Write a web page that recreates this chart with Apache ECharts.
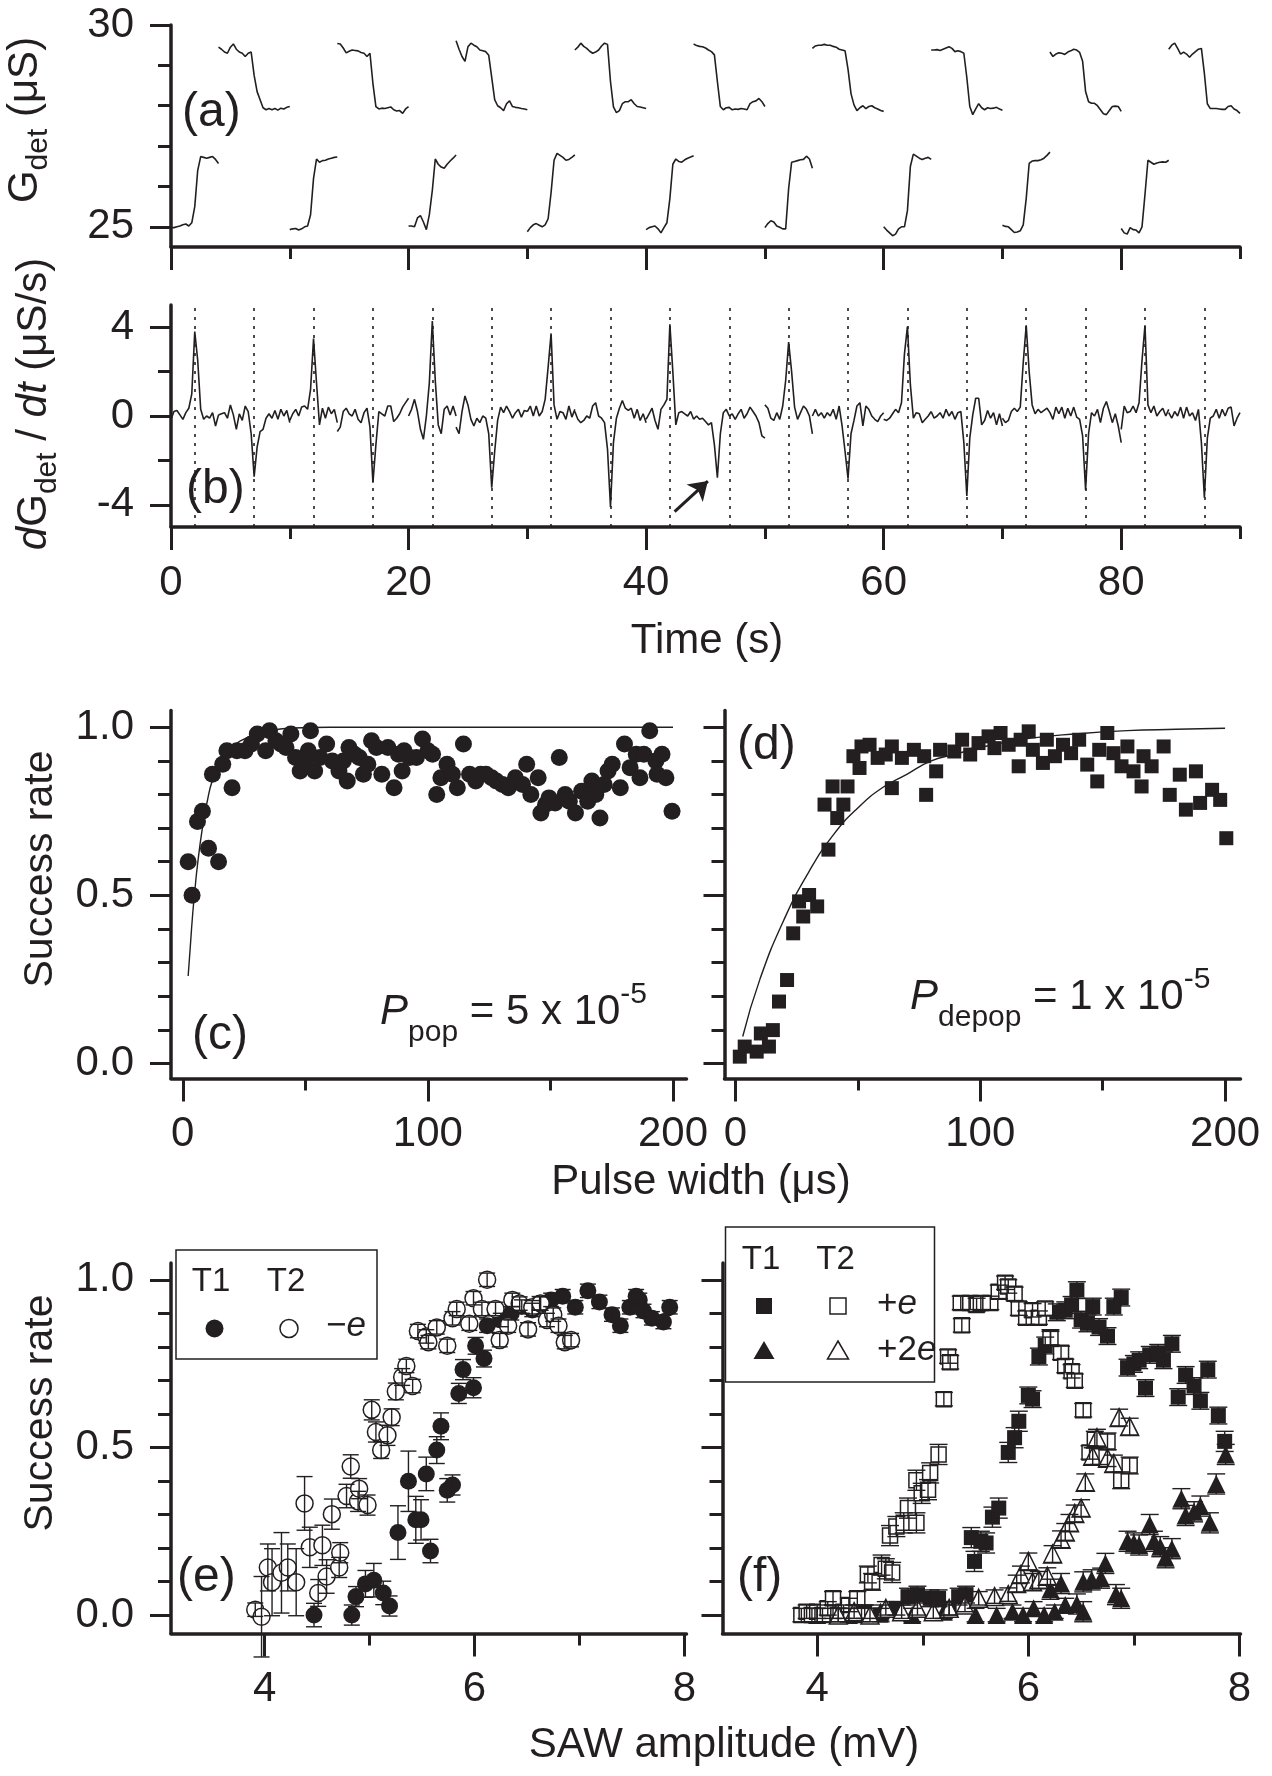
<!DOCTYPE html>
<html>
<head>
<meta charset="utf-8">
<script src="https://cdn.jsdelivr.net/npm/echarts@6/dist/echarts.min.js"></script>
<style>
  html, body { margin: 0; background: #fff; }
  #chart { width: 1272px; height: 1776px; }
</style>
</head>
<body>
<div id="chart"></div>
<script>
const INK = "#231f20";
const FONT = '"Liberation Sans", Arial, sans-serif';

// ---- (a)/(b) time traces, sampled every 0.25 s inside each window ----
const STEP = 0.25;
const riseStarts = [0, 10, 20, 30, 40, 50, 60, 70, 80];
const fallStarts = [4, 14, 24, 34, 44, 54, 64, 74, 84];
const pulseTimes = [2, 7, 12, 17, 22, 27, 32, 37, 42, 47, 52, 57, 62, 67, 72, 77, 82, 87];

// G_det (uS), lower row (rising steps)
const gRise = [
  [24.98, 24.98, 25.0, 25.02, 25.05, 25.07, 25.02, 25.1, 25.5, 26.4, 26.74, 26.72, 26.7, 26.72, 26.74, 26.67, 26.57],
  [24.93, 24.95, 24.96, 24.92, 24.95, 25.0, 25.02, 25.3, 26.2, 26.68, 26.6, 26.64, 26.65, 26.68, 26.7, 26.72, 26.73],
  [25.02, 25.02, 25.0, 25.22, 25.28, 25.12, 24.93, 25.3, 25.9, 26.68, 26.55, 26.48, 26.45, 26.55, 26.63, 26.7, 26.78],
  [24.88, 24.98, 25.05, 25.08, 25.04, 25.0, 25.05, 25.2, 25.85, 26.65, 26.82, 26.77, 26.72, 26.65, 26.67, 26.72, 26.78],
  [24.93, 24.98, 25.0, 25.02, 24.95, 24.85, 24.98, 25.1, 25.7, 26.55, 26.68, 26.62, 26.6, 26.66, 26.7, 26.73, 26.76],
  [24.98, 25.08, 25.15, 25.12, 25.02, 24.99, 24.95, 24.95, 25.95, 26.6, 26.62, 26.64, 26.66, 26.67, 26.75, 26.68, 26.45],
  [25.0, 24.92, 24.85, 24.78, 24.82, 24.95, 25.0, 25.0, 25.4, 26.5, 26.8, 26.75, 26.7, 26.67, 26.7, 26.72, 26.67],
  [25.04, 25.01, 25.0, 24.93, 24.86, 24.87, 24.9, 25.05, 25.7, 26.57, 26.63, 26.64, 26.64, 26.66, 26.7, 26.77, 26.85],
  [24.96, 24.85, 24.82, 24.98, 24.93, 24.92, 24.85, 25.0, 25.8, 26.65, 26.6, 26.55, 26.58, 26.6, 26.61, 26.6, 26.65],
];
// G_det (uS), upper row (falling steps)
const gFall = [
  [29.45, 29.4, 29.33, 29.3, 29.45, 29.53, 29.4, 29.33, 29.3, 29.22, 29.3, 29.33, 28.75, 28.35, 28.15, 27.95, 27.9, 27.93, 27.9, 27.93, 27.89, 27.94, 27.92, 27.96, 27.98],
  [29.54, 29.53, 29.43, 29.31, 29.35, 29.38, 29.37, 29.36, 29.32, 29.3, 29.22, 29.3, 28.55, 27.98, 27.92, 27.94, 27.93, 27.95, 27.97, 27.9, 27.87, 27.88, 27.81, 27.92, 27.98],
  [29.61, 29.4, 29.22, 29.1, 29.46, 29.55, 29.5, 29.46, 29.38, 29.36, 29.34, 29.25, 28.7, 28.15, 28.0, 27.95, 27.88, 28.05, 28.12, 27.98, 27.96, 27.95, 27.93, 27.92, 27.9],
  [29.38, 29.45, 29.55, 29.47, 29.42, 29.35, 29.3, 29.33, 29.38, 29.48, 29.55, 29.52, 28.6, 27.97, 27.83, 27.88, 28.05, 28.1, 28.1, 28.15, 28.05, 27.98, 27.97, 27.95, 27.93],
  [29.53, 29.49, 29.47, 29.46, 29.43, 29.38, 29.34, 29.26, 28.6, 27.98, 27.9, 27.95, 27.96, 27.9, 27.92, 27.91, 27.93, 27.92, 27.9, 28.05, 28.1, 28.12, 28.18, 28.1, 27.98],
  [29.42, 29.48, 29.5, 29.5, 29.52, 29.5, 29.5, 29.47, 29.45, 29.4, 29.38, 29.36, 28.9, 28.3, 28.02, 27.88, 27.95, 28.0, 27.93, 27.98, 28.0, 27.95, 27.92, 27.88, 27.86],
  [29.38, 29.38, 29.39, 29.37, 29.4, 29.43, 29.46, 29.42, 29.34, 29.36, 29.34, 29.3, 28.7, 27.98, 27.78, 27.92, 28.05, 27.95, 27.9, 27.95, 27.93, 27.94, 27.96, 27.92, 27.89],
  [29.33, 29.22, 29.28, 29.31, 29.3, 29.27, 29.33, 29.36, 29.4, 29.38, 29.32, 29.1, 28.35, 28.1, 28.06, 28.06, 28.0, 27.9, 27.8, 27.78, 27.88, 27.98, 27.99, 27.98, 27.86],
  [29.4, 29.5, 29.55, 29.42, 29.28, 29.33, 29.28, 29.2, 29.28, 29.34, 29.4, 29.42, 28.8, 28.05, 27.93, 27.93, 27.93, 27.92, 27.91, 27.91, 27.98, 28.0, 27.92, 27.88, 27.81],
];
// dG/dt (uS/s)
const dRise = [
  [-0.15, 0.2, 0.25, 0.05, -0.15, 0.15, 0.35, 1.0, 3.8, 2.5, 0.3, -0.15, 0.0, -0.1, 0.15, -0.45, 0.05],
  [-0.2, 0.1, 0.3, 0.0, 0.4, 0.45, 0.3, 1.2, 3.49, 1.5, -0.4, 0.35, -0.1, 0.4, 0.1, 0.3, -0.3],
  [0.0, 0.3, 0.75, 0.2, -0.6, -1.05, 0.0, 1.5, 4.28, 1.6, -0.4, -0.8, 0.3, 0.45, 0.05, 0.45, 0.0],
  [0.2, 0.45, 0.0, 0.45, 0.0, 0.2, 0.75, 2.2, 3.72, 0.5, -0.15, 0.2, 0.15, -0.15, 0.45, -0.05, 0.3],
  [-0.15, 0.1, 0.35, -0.2, -0.6, 0.3, 0.5, 0.75, 4.13, 2.0, -0.4, 0.15, 0.2, 0.1, 0.0, 0.2, -0.15],
  [0.5, 0.35, -0.1, -0.2, 0.15, -0.15, 0.45, 1.6, 3.33, 2.0, 0.4, -0.15, 0.15, 0.45, 0.3, 0.0, -0.8],
  [-0.15, -0.2, -0.1, 0.1, 0.3, 0.15, 0.6, 2.8, 4.03, 1.4, -0.1, 0.15, 0.1, -0.3, -0.15, 0.0, 0.2],
  [-0.1, -0.3, -0.2, 0.2, 0.35, 0.2, 0.4, 2.4, 4.09, 2.0, 0.5, 0.1, 0.3, 0.15, 0.25, 0.35, 0.15],
  [-0.6, 0.45, 0.15, 0.2, 0.45, 0.15, 0.6, 2.5, 4.09, 0.5, 0.15, 0.45, 0.0, 0.2, 0.35, 0.0, 0.3],
];
const dFall = [
  [0.05, 0.1, 0.15, -0.1, 0.5, 0.05, -0.6, 0.1, -0.2, 0.45, 0.2, -0.8, -2.73, -1.4, -0.7, -0.6, -0.1, 0.1, -0.1, 0.25, -0.15, 0.3, 0.0, 0.25, -0.3],
  [-0.7, -0.5, 0.2, 0.35, 0.1, 0.0, 0.3, -0.15, -0.3, 0.15, 0.35, -0.5, -3.0, -1.3, 0.2, 0.1, 0.0, 0.45, 0.45, -0.25, -0.1, 0.1, 0.4, 0.6, 0.8],
  [-0.5, -0.8, 0.2, 0.9, 0.5, -0.15, -0.45, -0.1, -0.3, 0.0, -0.1, -0.8, -3.23, -1.6, -0.2, 0.4, 0.15, 0.45, 0.2, -0.1, 0.15, 0.3, -0.05, 0.25, 0.2],
  [0.2, -0.15, -0.3, -0.2, 0.0, -0.1, 0.45, 0.6, 0.0, -0.1, -0.3, -1.5, -4.1, -1.2, -0.1, 0.35, 0.7, 0.35, 0.25, 0.35, -0.1, 0.3, -0.2, 0.1, -0.3],
  [-0.15, 0.0, -0.15, -0.1, -0.25, -0.4, -0.3, -1.3, -2.78, -0.8, 0.15, 0.3, 0.0, 0.1, -0.15, 0.1, 0.3, -0.1, 0.1, 0.4, 0.2, 0.0, -0.3, -0.9, -1.0],
  [0.0, 0.3, 0.0, 0.15, -0.1, 0.15, 0.0, 0.3, -0.15, 0.45, -0.45, -1.6, -2.82, -0.8, -0.2, 0.45, 0.6, -0.45, 0.45, 0.3, 0.0, -0.15, -0.25, 0.0, 0.15],
  [0.2, -0.1, 0.0, 0.15, -0.1, 0.3, 0.0, 0.2, -0.15, 0.15, 0.2, -1.2, -3.6, -1.0, 0.05, 0.8, 0.8, -0.4, -0.2, 0.25, -0.1, 0.15, -0.4, 0.1, -0.45],
  [0.15, -0.15, 0.4, 0.1, 0.4, -0.1, 0.35, 0.0, 0.4, -0.05, -0.15, -0.9, -3.33, -0.8, 0.15, 0.0, 0.3, -0.3, 0.35, 0.65, 0.2, -0.3, 0.1, -0.45, -1.2],
  [0.15, -0.1, 0.2, 0.0, 0.4, -0.1, 0.4, 0.0, 0.15, -0.2, 0.3, -1.2, -3.68, -1.0, -0.1, 0.0, 0.3, -0.1, 0.3, 0.0, 0.35, 0.4, -0.45, -0.1, 0.15],
];
// arrow in (b): tail -> head, data coords
const arrowTail = [42.4, -4.31];
const arrowHead = [45.2, -2.93];

// ---- (c) success rate vs pulse width, population ----
const cPts = [
  [2.2, 0.6], [3.8, 0.5], [6.0, 0.72], [8.0, 0.75], [10.5, 0.64], [14.6, 0.6], [12.1, 0.86], [16.3, 0.89],
  [20.1, 0.82], [18.0, 0.93], [22.1, 0.93], [25.4, 0.93], [28, 0.95], [30.4, 0.98], [33.8, 0.93], [35.4, 0.99],
  [38, 0.96], [40, 0.95], [42.1, 0.94], [44.1, 0.98], [46, 0.91], [47.9, 0.87], [50, 0.9], [51.2, 0.93],
  [52.1, 0.99], [53.8, 0.87], [56, 0.91], [58.7, 0.95], [61, 0.9], [63.7, 0.87], [65.5, 0.9], [67.1, 0.84],
  [67.8, 0.94], [70, 0.92], [72.0, 0.91], [73.7, 0.86], [75.5, 0.89], [77.0, 0.96], [79, 0.94], [81.2, 0.86],
  [83.7, 0.94], [86.2, 0.82], [88, 0.92], [89.5, 0.87], [90.3, 0.93], [92.5, 0.91], [95.3, 0.91], [97.8, 0.965],
  [100, 0.93], [101.9, 0.92], [103.6, 0.8], [105.3, 0.85], [107.8, 0.89], [110, 0.86], [112.0, 0.82], [114.5, 0.95],
  [117.0, 0.86], [119.5, 0.84], [121.5, 0.86], [123.7, 0.86], [126, 0.85], [127.9, 0.84], [130.4, 0.83], [132.8, 0.82],
  [135.7, 0.85], [138.6, 0.83], [140.3, 0.89], [142.0, 0.8], [145.0, 0.85], [146.1, 0.745], [148, 0.77], [149.4, 0.79],
  [151.9, 0.775], [153.6, 0.91], [156.0, 0.8], [157.7, 0.78], [160.2, 0.745], [162.7, 0.81], [165.2, 0.78], [166.9, 0.84],
  [168.5, 0.8], [170.2, 0.73], [171.9, 0.83], [173.5, 0.87], [175.2, 0.89], [178.5, 0.82], [180.2, 0.95], [182.5, 0.88],
  [185, 0.92], [186.5, 0.85], [188.1, 0.92], [190.5, 0.99], [193.0, 0.9], [193.5, 0.86], [195.5, 0.92], [197.1, 0.85],
  [199.6, 0.75],
];
const cFit = [
  [2.2, 0.26], [3, 0.34], [4, 0.44], [5, 0.52], [6, 0.59], [8, 0.7], [10, 0.78], [12, 0.84], [15, 0.89],
  [20, 0.94], [25, 0.965], [30, 0.98], [35, 0.99], [45, 0.998], [60, 1.0], [200, 1.0],
];

// ---- (d) success rate vs pulse width, depopulation ----
const dPts = [
  [1.8, 0.02], [3.8, 0.05], [8.7, 0.035], [10.4, 0.089], [13.7, 0.05], [15.3, 0.099], [17.8, 0.184], [21.1, 0.248],
  [23.6, 0.387], [26.0, 0.482], [27.7, 0.437], [30.1, 0.501], [33.4, 0.467], [36.4, 0.77], [38.0, 0.636], [39.7, 0.824],
  [41.6, 0.73], [44.1, 0.77], [45.8, 0.824], [48.2, 0.914], [50.7, 0.879], [51.5, 0.943], [54.8, 0.948], [58.1, 0.909],
  [61.4, 0.919], [63.9, 0.943], [63.9, 0.819], [68.0, 0.909], [72.9, 0.933], [77.1, 0.914], [77.9, 0.799], [82.0, 0.869],
  [83.6, 0.933], [89.4, 0.928], [92.6, 0.963], [95.9, 0.919], [99.3, 0.953], [103.4, 0.973], [105.8, 0.938], [108.3, 0.983],
  [111.6, 0.948], [115.7, 0.884], [116.5, 0.963], [119.8, 0.988], [121.5, 0.933], [125.6, 0.894], [127.2, 0.963], [130.5, 0.914],
  [133.8, 0.948], [137.1, 0.923], [140.4, 0.963], [143.7, 0.889], [147.8, 0.839], [148.6, 0.933], [151.9, 0.983], [154.4, 0.923],
  [157.7, 0.884], [160.1, 0.943], [162.6, 0.869], [165.9, 0.824], [166.7, 0.914], [170.0, 0.884], [174.9, 0.943], [177.4, 0.799],
  [181.5, 0.859], [184.0, 0.755], [188.1, 0.869], [189.8, 0.775], [194.7, 0.814], [198.0, 0.784], [200.5, 0.67],
];
const dFit = [
  [3, 0.08], [10, 0.25], [20, 0.43], [30, 0.57], [40, 0.68], [50, 0.76], [60, 0.82], [70, 0.86], [80, 0.9],
  [90, 0.92], [100, 0.94], [120, 0.967], [140, 0.981], [160, 0.99], [180, 0.994], [200, 0.997],
];

// ---- (e) success rate vs SAW amplitude, -e : [mV, rate, error] ----
const eT1 = [
  [4.47, 0.0, 0.035], [4.83, 0.0, 0.03], [4.87, 0.055, 0.03], [4.96, 0.093, 0.04], [5.04, 0.104, 0.05], [5.13, 0.066, 0.035],
  [5.19, 0.027, 0.03], [5.27, 0.246, 0.08], [5.37, 0.399, 0.09], [5.44, 0.284, 0.07], [5.49, 0.284, 0.06], [5.54, 0.421, 0.05],
  [5.58, 0.191, 0.035], [5.64, 0.492, 0.04], [5.68, 0.563, 0.04], [5.74, 0.372, 0.035], [5.79, 0.388, 0.03], [5.85, 0.661, 0.03],
  [5.89, 0.732, 0.03], [5.99, 0.678, 0.03], [6.01, 0.803, 0.025], [6.09, 0.765, 0.025], [6.12, 0.863, 0.02], [6.25, 0.88, 0.02],
  [6.35, 0.9, 0.02], [6.45, 0.92, 0.02], [6.55, 0.91, 0.02], [6.62, 0.93, 0.02], [6.73, 0.94, 0.02], [6.84, 0.951, 0.02],
  [6.96, 0.918, 0.02], [7.08, 0.967, 0.02], [7.19, 0.934, 0.02], [7.31, 0.896, 0.02], [7.39, 0.863, 0.02], [7.48, 0.918, 0.02],
  [7.54, 0.951, 0.02], [7.57, 0.94, 0.02], [7.61, 0.907, 0.02], [7.69, 0.885, 0.02], [7.8, 0.874, 0.02], [7.86, 0.918, 0.02],
];
const eT2 = [
  [3.91, 0.016, 0.02], [3.97, -0.005, 0.12], [4.03, 0.142, 0.07], [4.07, 0.098, 0.1], [4.16, 0.126, 0.12], [4.22, 0.142, 0.07],
  [4.3, 0.098, 0.1], [4.38, 0.333, 0.08], [4.43, 0.202, 0.06], [4.51, 0.066, 0.04], [4.55, 0.208, 0.06], [4.59, 0.115, 0.05],
  [4.64, 0.301, 0.045], [4.71, 0.142, 0.03], [4.72, 0.186, 0.03], [4.78, 0.355, 0.035], [4.82, 0.443, 0.035], [4.89, 0.339, 0.03],
  [4.9, 0.377, 0.03], [4.98, 0.328, 0.03], [5.02, 0.612, 0.03], [5.06, 0.546, 0.03], [5.11, 0.492, 0.025], [5.17, 0.536, 0.03],
  [5.21, 0.59, 0.025], [5.25, 0.667, 0.025], [5.31, 0.71, 0.025], [5.35, 0.743, 0.02], [5.41, 0.683, 0.02], [5.46, 0.847, 0.02],
  [5.54, 0.831, 0.02], [5.56, 0.814, 0.02], [5.64, 0.858, 0.02], [5.74, 0.803, 0.02], [5.79, 0.885, 0.02], [5.83, 0.913, 0.02],
  [5.95, 0.869, 0.02], [5.99, 0.945, 0.02], [6.07, 0.913, 0.02], [6.12, 1.0, 0.02], [6.2, 0.913, 0.02], [6.24, 0.82, 0.02],
  [6.32, 0.863, 0.02], [6.36, 0.94, 0.02], [6.43, 0.929, 0.02], [6.51, 0.852, 0.02], [6.55, 0.918, 0.02], [6.63, 0.929, 0.02],
  [6.69, 0.88, 0.02], [6.75, 0.896, 0.02], [6.8, 0.863, 0.02], [6.86, 0.814, 0.02], [6.92, 0.82, 0.02],
];

// ---- (f) success rate vs SAW amplitude, +e and +2e : [mV, rate, error] ----
const fT1e = [
  [4.0, 0.0, 0.02], [4.15, 0.01, 0.02], [4.3, 0.0, 0.02], [4.45, 0.01, 0.02], [4.6, 0.0, 0.02], [4.75, 0.02, 0.02],
  [4.86, 0.055, 0.025], [4.95, 0.061, 0.025], [5.07, 0.05, 0.025], [5.15, 0.05, 0.025], [5.25, 0.02, 0.02], [5.34, 0.055, 0.025],
  [5.41, 0.061, 0.025], [5.46, 0.231, 0.03], [5.49, 0.16, 0.03], [5.55, 0.22, 0.03], [5.6, 0.215, 0.03], [5.66, 0.292, 0.03],
  [5.72, 0.319, 0.03], [5.81, 0.485, 0.03], [5.87, 0.529, 0.03], [5.91, 0.578, 0.03], [6.0, 0.655, 0.025], [6.04, 0.644, 0.025],
  [6.1, 0.771, 0.025], [6.16, 0.804, 0.025], [6.21, 0.826, 0.025], [6.27, 0.903, 0.025], [6.35, 0.909, 0.025], [6.41, 0.925, 0.025],
  [6.46, 0.969, 0.025], [6.5, 0.881, 0.025], [6.56, 0.87, 0.025], [6.61, 0.92, 0.025], [6.67, 0.859, 0.025], [6.75, 0.832, 0.025],
  [6.81, 0.92, 0.025], [6.88, 0.947, 0.025], [6.94, 0.738, 0.025], [7.0, 0.749, 0.025], [7.05, 0.76, 0.025], [7.11, 0.677, 0.025],
  [7.15, 0.776, 0.025], [7.23, 0.782, 0.025], [7.28, 0.76, 0.025], [7.36, 0.809, 0.025], [7.42, 0.65, 0.025], [7.49, 0.716, 0.025],
  [7.57, 0.683, 0.025], [7.63, 0.639, 0.025], [7.7, 0.732, 0.025], [7.8, 0.595, 0.025], [7.86, 0.518, 0.03],
];
const fT2e = [
  [3.85, 0.0, 0.02], [3.9, 0.01, 0.02], [3.95, 0.0, 0.02], [4.0, 0.01, 0.02], [4.05, 0.0, 0.02], [4.1, 0.02, 0.02],
  [4.15, 0.05, 0.02], [4.2, 0.0, 0.02], [4.25, 0.01, 0.02], [4.3, 0.03, 0.02], [4.38, 0.05, 0.02], [4.42, 0.0, 0.02],
  [4.48, 0.121, 0.025], [4.52, 0.099, 0.025], [4.61, 0.149, 0.03], [4.65, 0.138, 0.03], [4.69, 0.237, 0.03], [4.71, 0.127, 0.03],
  [4.75, 0.264, 0.03], [4.82, 0.275, 0.03], [4.86, 0.319, 0.03], [4.94, 0.275, 0.03], [4.94, 0.402, 0.03], [4.99, 0.363, 0.03],
  [5.05, 0.374, 0.03], [5.07, 0.424, 0.03], [5.15, 0.479, 0.03], [5.2, 0.644, 0.02], [5.24, 0.771, 0.02], [5.26, 0.754, 0.02],
  [5.36, 0.931, 0.02], [5.37, 0.864, 0.02], [5.45, 0.931, 0.02], [5.51, 0.925, 0.02], [5.55, 0.931, 0.02], [5.64, 0.931, 0.02],
  [5.72, 0.964, 0.02], [5.78, 0.991, 0.02], [5.81, 0.98, 0.02], [5.87, 0.958, 0.02], [5.91, 0.914, 0.02], [5.98, 0.887, 0.02],
  [6.04, 0.909, 0.02], [6.1, 0.887, 0.02], [6.16, 0.914, 0.02], [6.21, 0.826, 0.02], [6.31, 0.782, 0.02], [6.35, 0.743, 0.02],
  [6.41, 0.727, 0.02], [6.44, 0.699, 0.02], [6.52, 0.611, 0.02], [6.58, 0.485, 0.02], [6.63, 0.523, 0.025], [6.67, 0.474, 0.025],
  [6.75, 0.518, 0.025], [6.88, 0.402, 0.025], [6.96, 0.446, 0.025],
];
const fT1e2 = [
  [4.0, 0.0, 0.02], [4.3, 0.0, 0.02], [4.6, 0.01, 0.02], [4.9, 0.0, 0.02], [5.2, 0.01, 0.02], [5.5, 0.0, 0.02],
  [5.7, 0.0, 0.02], [5.85, 0.01, 0.02], [5.95, 0.0, 0.02], [6.05, 0.02, 0.02], [6.15, 0.0, 0.02], [6.25, 0.01, 0.02],
  [6.35, 0.03, 0.02], [6.46, 0.033, 0.03], [6.52, 0.01, 0.03], [6.21, 0.077, 0.03], [6.31, 0.094, 0.03], [6.52, 0.099, 0.03],
  [6.6, 0.105, 0.03], [6.69, 0.11, 0.03], [6.73, 0.154, 0.03], [6.83, 0.061, 0.03], [6.88, 0.05, 0.03], [6.94, 0.22, 0.03],
  [7.0, 0.215, 0.03], [7.05, 0.209, 0.03], [7.15, 0.27, 0.03], [7.19, 0.22, 0.03], [7.25, 0.204, 0.03], [7.3, 0.171, 0.03],
  [7.36, 0.198, 0.03], [7.45, 0.347, 0.03], [7.49, 0.297, 0.03], [7.57, 0.308, 0.03], [7.63, 0.325, 0.03], [7.72, 0.275, 0.03],
  [7.78, 0.391, 0.03], [7.87, 0.479, 0.03],
];
const fT2e2 = [
  [4.2, 0.0, 0.02], [4.35, 0.01, 0.02], [4.5, 0.0, 0.02], [4.65, 0.02, 0.02], [4.8, 0.01, 0.02], [4.95, 0.02, 0.02],
  [5.1, 0.01, 0.02], [5.25, 0.02, 0.02], [5.4, 0.03, 0.02], [5.53, 0.05, 0.02], [5.68, 0.055, 0.02], [5.81, 0.061, 0.02],
  [5.89, 0.094, 0.025], [5.93, 0.121, 0.025], [6.0, 0.16, 0.025], [6.04, 0.099, 0.025], [6.1, 0.105, 0.025], [6.18, 0.116, 0.025],
  [6.23, 0.182, 0.025], [6.31, 0.226, 0.025], [6.35, 0.248, 0.025], [6.39, 0.275, 0.025], [6.44, 0.303, 0.025], [6.5, 0.319, 0.025],
  [6.54, 0.396, 0.025], [6.61, 0.474, 0.025], [6.65, 0.529, 0.025], [6.75, 0.468, 0.025], [6.81, 0.452, 0.025], [6.86, 0.589, 0.025],
  [6.96, 0.562, 0.025],
];

// ---- ticks ----
const timeMajor = [0, 20, 40, 60, 80];
const timeMinor = [10, 30, 50, 70, 90];
const gMajor = [25, 30];
const gMinor = [26, 27, 28, 29];
const dgMajor = [-4, 0, 4];
const dgMinor = [-2, 2];
const rateMajor = [0, 0.5, 1];
const rateMinor = [0.1, 0.2, 0.3, 0.4, 0.6, 0.7, 0.8, 0.9];
const pwMajor = [0, 100, 200];
const pwMinor = [50, 150];
const sawMajor = [4, 6, 8];
const sawMinor = [5, 7];

/**
 * 把分段窗口数据拼成一条带断点的折线
 */
const windowSeries = (starts, windows) => {
  const out = [];
  windows.forEach((vals, k) => {
    vals.forEach((v, i) => out.push([starts[k] + i * STEP, v]));
    out.push([starts[k] + (vals.length - 1) * STEP, "-"]);
  });
  return out;
};

/**
 * 主刻度轴 + 次刻度轴（同一 grid）
 */
const axisPair = (dir, grid, min, max, major, minor, opt) => {
  const base = {
    type: "value",
    gridIndex: grid,
    min,
    max,
    position: dir === "x" ? "bottom" : "left",
    offset: 0,
    splitLine: { show: false },
  };
  const majorAxis = Object.assign({}, base, {
    axisLine: { show: true, onZero: false, lineStyle: { color: INK, width: 3.5 } },
    axisTick: { show: true, inside: false, customValues: major, length: opt.majorLen, lineStyle: { color: INK, width: 3 } },
    axisLabel: opt.labels
      ? { show: true, customValues: major, margin: opt.margin, color: INK, fontSize: 42, fontFamily: FONT, formatter: opt.fmt }
      : { show: false },
  });
  const minorAxis = Object.assign({}, base, {
    axisLine: { show: false, onZero: false },
    axisTick: { show: true, inside: false, customValues: minor, length: opt.minorLen, lineStyle: { color: INK, width: 3 } },
    axisLabel: { show: false },
  });
  return [majorAxis, minorAxis];
};

const fmt1 = (v) => v.toFixed(1);
const XO = { majorLen: 23, minorLen: 12, margin: 35 };
const YO = { majorLen: 21, minorLen: 13, margin: 37 };

const xAxes = [
  ...axisPair("x", 0, 0, 90, timeMajor, timeMinor, { ...XO, labels: false }),
  ...axisPair("x", 1, 0, 90, timeMajor, timeMinor, { ...XO, labels: true }),
  ...axisPair("x", 2, -4.8, 205.5, pwMajor, pwMinor, { ...XO, labels: true }),
  ...axisPair("x", 3, -4.45, 206.3, pwMajor, pwMinor, { ...XO, labels: true }),
  ...axisPair("x", 4, 3.107, 8.02, sawMajor, sawMinor, { ...XO, labels: true }),
  ...axisPair("x", 5, 3.103, 8.01, sawMajor, sawMinor, { ...XO, labels: true }),
];
const yAxes = [
  ...axisPair("y", 0, 24.5, 30, gMajor, gMinor, { ...YO, labels: true }),
  ...axisPair("y", 1, -5, 5, dgMajor, dgMinor, { ...YO, labels: true }),
  ...axisPair("y", 2, -0.045, 1.05, rateMajor, rateMinor, { ...YO, labels: true, fmt: fmt1 }),
  ...axisPair("y", 3, -0.045, 1.05, rateMajor, rateMinor, { ...YO, labels: false }),
  ...axisPair("y", 4, -0.055, 1.05, rateMajor, rateMinor, { ...YO, labels: true, fmt: fmt1 }),
  ...axisPair("y", 5, -0.055, 1.05, rateMajor, rateMinor, { ...YO, labels: false }),
];

const grids = [
  { left: 171, top: 25, width: 1069, height: 222 },
  { left: 171, top: 305, width: 1069, height: 222 },
  { left: 171, top: 710.5, width: 515.5, height: 368 },
  { left: 724.5, top: 710.5, width: 516, height: 368 },
  { left: 171, top: 1263, width: 515.5, height: 370.5 },
  { left: 722.5, top: 1263, width: 518, height: 370.5 },
].map((g) => Object.assign({ outerBoundsMode: "none", containLabel: false }, g));

const ax = (g) => ({ xAxisIndex: g * 2, yAxisIndex: g * 2 });

const errorBars = (g, data, cap) =>
  Object.assign(ax(g), {
    type: "custom",
    data,
    clip: false,
    z: 4,
    silent: true,
    encode: { x: 0, y: 1 },
    renderItem: (params, api) => {
      const x = api.value(0);
      const y = api.value(1);
      const e = api.value(2);
      const hi = api.coord([x, y + e]);
      const lo = api.coord([x, y - e]);
      const s = { stroke: INK, lineWidth: 1.4, fill: null };
      return {
        type: "group",
        children: [
          { type: "line", shape: { x1: hi[0], y1: hi[1], x2: lo[0], y2: lo[1] }, style: s },
          { type: "line", shape: { x1: hi[0] - cap, y1: hi[1], x2: hi[0] + cap, y2: hi[1] }, style: s },
          { type: "line", shape: { x1: lo[0] - cap, y1: lo[1], x2: lo[0] + cap, y2: lo[1] }, style: s },
        ],
      };
    },
  });

const filled = { color: INK, opacity: 1 };
const hollow = { color: "#fff", borderColor: INK, borderWidth: 1.5, opacity: 1 };
const trace = { type: "line", symbol: "none", showSymbol: false, connectNulls: false, lineStyle: { color: INK, width: 1.6 } };

const series = [
  Object.assign(ax(0), trace, { data: windowSeries(riseStarts, gRise) }),
  Object.assign(ax(0), trace, { data: windowSeries(fallStarts, gFall) }),
  Object.assign(ax(1), trace, {
    data: windowSeries(riseStarts, dRise).concat(windowSeries(fallStarts, dFall)),
    markLine: {
      silent: true,
      symbol: "none",
      label: { show: false },
      lineStyle: { color: INK, width: 1.6, type: [3, 6] },
      data: pulseTimes.map((t) => ({ xAxis: t })),
    },
  }),
  Object.assign(ax(1), {
    type: "line",
    data: [],
    markLine: {
      silent: true,
      symbol: ["none", "arrow"],
      symbolSize: 18,
      label: { show: false },
      lineStyle: { color: INK, width: 3, type: "solid" },
      data: [[{ coord: arrowTail }, { coord: arrowHead }]],
    },
  }),
  Object.assign(ax(2), { type: "line", data: cFit, smooth: true, symbol: "none", z: 1, lineStyle: { color: INK, width: 1.4 } }),
  Object.assign(ax(2), { type: "scatter", data: cPts, symbol: "circle", symbolSize: 17, itemStyle: filled }),
  Object.assign(ax(3), { type: "line", data: dFit, smooth: true, symbol: "none", z: 1, lineStyle: { color: INK, width: 1.4 } }),
  Object.assign(ax(3), { type: "scatter", data: dPts, symbol: "rect", symbolSize: 14, itemStyle: filled }),
  Object.assign(ax(4), { type: "scatter", data: eT1, symbol: "circle", symbolSize: 17, itemStyle: filled, clip: false }),
  Object.assign(ax(4), { type: "scatter", data: eT2, symbol: "circle", symbolSize: 17, itemStyle: hollow, clip: false }),
  errorBars(4, eT1.concat(eT2), 8),
  Object.assign(ax(5), { type: "scatter", data: fT1e, symbol: "rect", symbolSize: 15, itemStyle: filled }),
  Object.assign(ax(5), { type: "scatter", data: fT1e2, symbol: "triangle", symbolSize: 18, itemStyle: filled }),
  Object.assign(ax(5), { type: "scatter", data: fT2e, symbol: "rect", symbolSize: 15, itemStyle: hollow }),
  Object.assign(ax(5), { type: "scatter", data: fT2e2, symbol: "triangle", symbolSize: 18, itemStyle: hollow }),
  errorBars(5, fT1e.concat(fT2e, fT1e2, fT2e2), 9),
];

// ---- text runs with sub/superscripts, laid out with measured widths ----
const mctx = document.createElement("canvas").getContext("2d");
const fontStr = (size, italic) => (italic ? "italic " : "") + size + "px " + FONT;
const tw = (text, size, italic) => {
  mctx.font = fontStr(size, italic);
  return mctx.measureText(text).width;
};
// tokens: [text, size, baselineOffset, italic]
const textRun = (tokens, x, y, align, rotation, z) => {
  const total = tokens.reduce((s, t) => s + tw(t[0], t[1], t[3]), 0);
  let cx = align === "center" ? -total / 2 : 0;
  const children = tokens.map((t) => {
    const el = {
      type: "text",
      x: cx,
      y: t[2] - 0.35 * t[1],
      z: z || 5,
      silent: true,
      style: {
        text: t[0], font: fontStr(t[1], t[3]), fill: INK,
        textAlign: "left", align: "left", textVerticalAlign: "middle", verticalAlign: "middle",
      },
    };
    cx += tw(t[0], t[1], t[3]);
    return el;
  });
  return { type: "group", x, y, rotation: rotation || 0, z: z || 5, silent: true, children };
};
const R90 = Math.PI / 2;
const M = 42;
const S = 30;
const L = 33;

const graphics = [
  textRun([["G", M, 0], ["det", S, 9], [" (μS)", M, 0]], 40, 120, "center", R90),
  textRun([["d", M, 0, true], ["G", M, 0], ["det", S, 9], [" / ", M, 0], ["dt", M, 0, true], [" (μS/s)", M, 0]], 49, 404, "center", R90),
  textRun([["Success rate", 41, 0]], 55, 869, "center", R90),
  textRun([["Success rate", 41, 0]], 55, 1413, "center", R90),
  textRun([["Time (s)", M, 0]], 707, 656, "center"),
  textRun([["Pulse width (μs)", M, 0]], 701, 1197, "center"),
  textRun([["SAW amplitude (mV)", M, 0]], 724, 1760, "center"),
  textRun([["(a)", 48, 0]], 182, 130, "left"),
  textRun([["(b)", 48, 0]], 186, 507, "left"),
  textRun([["(c)", 48, 0]], 192, 1053, "left"),
  textRun([["(d)", 48, 0]], 737, 763, "left"),
  textRun([["(e)", 48, 0]], 177, 1595, "left"),
  textRun([["(f)", 48, 0]], 737, 1595, "left"),
  textRun([["P", M, 0, true], ["pop", S, 16], [" = 5 x 10", M, 0], ["-5", S, -22]], 380, 1027, "left"),
  textRun([["P", M, 0, true], ["depop", S, 16], [" = 1 x 10", M, 0], ["-5", S, -22]], 910, 1012, "left"),
  // legend (e)
  { type: "rect", shape: { x: 176, y: 1250, width: 201, height: 109 }, style: { fill: "#fff", stroke: INK, lineWidth: 1.5 }, z: 10 },
  textRun([["T1", L, 0]], 211, 1293, "center", 0, 11),
  textRun([["T2", L, 0]], 286, 1293, "center", 0, 11),
  { type: "circle", shape: { cx: 214.5, cy: 1328.5, r: 9 }, style: { fill: INK }, z: 11 },
  { type: "circle", shape: { cx: 289, cy: 1328.5, r: 9 }, style: { fill: "#fff", stroke: INK, lineWidth: 1.5 }, z: 11 },
  textRun([["−", 35, 0], ["e", 35, 0, true]], 326, 1339, "left", 0, 11),
  // legend (f)
  { type: "rect", shape: { x: 725.5, y: 1227, width: 209, height: 155 }, style: { fill: "#fff", stroke: INK, lineWidth: 1.5 }, z: 10 },
  textRun([["T1", L, 0]], 761, 1271, "center", 0, 11),
  textRun([["T2", L, 0]], 835.5, 1271, "center", 0, 11),
  { type: "rect", shape: { x: 756, y: 1298, width: 16, height: 16 }, style: { fill: INK }, z: 11 },
  { type: "rect", shape: { x: 830, y: 1298, width: 16, height: 16 }, style: { fill: "#fff", stroke: INK, lineWidth: 1.5 }, z: 11 },
  textRun([["+", 35, 0], ["e", 35, 0, true]], 877, 1317, "left", 0, 11),
  { type: "polygon", shape: { points: [[764, 1341], [774.5, 1359], [753.5, 1359]] }, style: { fill: INK }, z: 11 },
  { type: "polygon", shape: { points: [[838, 1341], [848.5, 1359], [827.5, 1359]] }, style: { fill: "#fff", stroke: INK, lineWidth: 1.5 }, z: 11 },
  textRun([["+2", 35, 0], ["e", 35, 0, true]], 877, 1363, "left", 0, 11),
];

const chart = echarts.init(document.getElementById("chart"), null, { renderer: "canvas" });
chart.setOption({
  animation: false,
  backgroundColor: "#fff",
  grid: grids,
  xAxis: xAxes,
  yAxis: yAxes,
  series,
  graphic: { elements: graphics },
});
</script>
</body>
</html>
